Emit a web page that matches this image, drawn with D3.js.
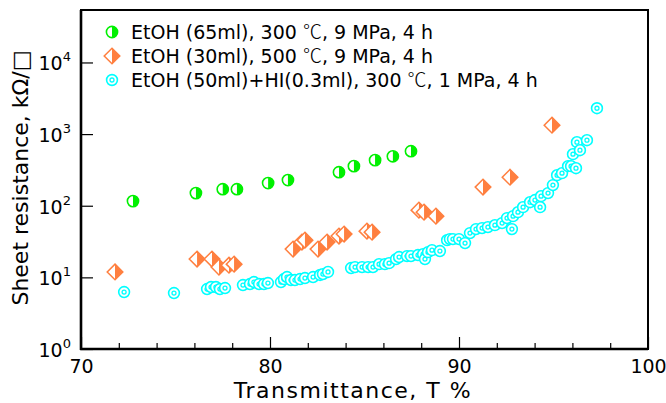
<!DOCTYPE html>
<html>
<head>
<meta charset="utf-8">
<script src="https://d3js.org/d3.v7.min.js"></script>
<style>
  body { margin: 0; background: #fff; }
  text { font-family: "DejaVu Sans", Verdana, sans-serif; fill: #000; }
</style>
</head>
<body>
<script>
// series: transmittance (%) and sheet resistance (kOhm/sq)
var green_T = [72.75, 76.08, 77.5, 78.25, 79.9, 80.95, 83.65, 84.44, 85.56, 86.5, 87.46];
var green_R = [116, 150, 170, 170, 207, 228, 294, 357, 433, 490, 577];

var orange_T = [71.80, 76.14, 76.93, 77.30, 77.83, 78.10, 81.22, 81.69, 81.85, 82.54, 83.02,
                83.65, 83.92, 85.13, 85.40, 87.88, 88.15, 88.78, 91.27, 92.70, 94.92];
var orange_R = [11.9, 18.0, 18.0, 13.9, 14.8, 15.3, 24.8, 31.1, 33.1, 24.8, 31.1,
                37.7, 40.2, 44.2, 42.8, 86.8, 81.4, 71.6, 182, 250, 1331];

var cyan_T = [72.28, 74.92, 76.67, 76.88, 77.14, 77.35, 77.62, 78.57, 78.94, 79.15, 79.42,
              79.68, 79.89, 80.58, 80.74, 80.90, 81.11, 81.32, 81.59, 81.85, 82.28, 82.65,
              82.80, 83.07, 84.29, 84.50, 84.87, 85.19, 85.45, 85.77, 86.08, 86.30, 86.67,
              86.83, 87.25, 87.46, 87.83, 88.10, 88.20, 88.36, 88.57, 88.99, 89.37, 89.52,
              89.68, 90.00, 90.32, 90.58, 90.90, 91.22, 91.53, 91.90, 92.28, 92.54, 92.80,
              92.86, 93.12, 93.39, 93.76, 94.02, 94.29, 94.34, 94.71, 94.97, 95.19, 95.45,
              95.77, 95.93, 96.19, 96.03, 96.24, 96.40, 96.77, 97.30];
var cyan_R = [6.24, 6.04, 6.87, 7.32, 7.32, 6.87, 7.09, 7.81, 8.07, 8.60, 8.07,
              8.07, 8.33, 8.60, 9.47, 10.1, 9.17, 9.17, 9.47, 9.78, 10.1, 10.8,
              11.1, 11.9, 13.5, 13.9, 13.9, 13.9, 13.9, 15.3, 15.3, 15.8, 18.0,
              19.2, 19.8, 19.8, 20.5, 21.1, 18.0, 22.5, 24.0, 23.3, 33.1, 34.2,
              34.2, 34.2, 30.1, 41.5, 47.2, 48.7, 50.3, 53.6, 57.2, 67.2, 47.2,
              71.6, 81.4, 95.5, 112, 120, 95.5, 136, 150, 194, 267, 285,
              357, 357, 334, 525, 771, 596, 822, 2296];

// legend text split around the degree sign (it needs a full-width glyph)
var legend_pre = ["EtOH (65ml), 300 ", "EtOH (30ml), 500 ", "EtOH (50ml)+HI(0.3ml), 300 "];
var legend_post = [", 9 MPa, 4 h", ", 9 MPa, 4 h", ", 1 MPa, 4 h"];
var x_ticks = [70, 80, 90, 100];
var x_minor = [72, 74, 76, 78, 82, 84, 86, 88, 92, 94, 96, 98];
var y_exps = [0, 1, 2, 3, 4];

var W = 666, H = 403;
var m_left = 81, m_right = 648, m_top = 10, m_bottom = 349;

var green = "#00f000", orange = "#ff7f3f", cyan = "#00ffff";

var svg = d3.select("body").append("svg")
    .attr("width", W)
    .attr("height", H);

var x = d3.scaleLinear().domain([70, 100]).range([m_left, m_right]);
var y = d3.scaleLog().domain([1, 5.4e4]).range([m_bottom, m_top]);

// minor x ticks
var gm = svg.append("g")
    .attr("transform", "translate(0," + m_bottom + ")")
    .call(d3.axisBottom(x).tickValues(x_minor).tickSize(-6).tickFormat(""));
gm.select(".domain").remove();
gm.selectAll("line").attr("stroke-width", 1.2);

// major x ticks + labels
var gx = svg.append("g")
    .attr("transform", "translate(0," + m_bottom + ")")
    .call(d3.axisBottom(x).tickValues(x_ticks).tickSize(-12).tickPadding(11).tickFormat(d3.format("d")));
gx.select(".domain").remove();
gx.selectAll("line").attr("stroke-width", 1.2);
gx.selectAll("text").style("font-size", "19px").style("font-family", "DejaVu Sans");

// y ticks (inward)
var gy = svg.append("g")
    .attr("transform", "translate(" + m_left + ",0)")
    .call(d3.axisLeft(y).tickValues(y_exps.map(function(e) { return Math.pow(10, e); })).tickSize(-12).tickFormat(""));
gy.select(".domain").remove();
gy.selectAll("line").attr("stroke-width", 1.2);

// y tick labels 10^n
y_exps.forEach(function(e) {
  var t = svg.append("text")
      .attr("x", 71)
      .attr("y", y(Math.pow(10, e)) + 8)
      .attr("text-anchor", "end")
      .style("font-size", "19px");
  t.append("tspan").text("10");
  t.append("tspan").attr("dy", -9).style("font-size", "13px").text(e);
});

// frame
svg.append("rect")
    .attr("x", m_left).attr("y", m_top)
    .attr("width", m_right - m_left).attr("height", m_bottom - m_top)
    .attr("fill", "none").attr("stroke", "#000").attr("stroke-width", 2);
svg.append("line").attr("x1", m_left).attr("x2", m_left).attr("y1", m_top).attr("y2", m_bottom + 1)
    .attr("stroke", "#000").attr("stroke-width", 2.6);
svg.append("line").attr("x1", m_left - 1).attr("x2", m_right).attr("y1", m_bottom).attr("y2", m_bottom)
    .attr("stroke", "#000").attr("stroke-width", 2.6);

// axis titles
svg.append("text")
    .attr("x", 353)
    .attr("y", 398)
    .attr("text-anchor", "middle")
    .style("font-size", "22px")
    .style("letter-spacing", "1.5px")
    .text("Transmittance, T %");
svg.append("text")
    .attr("transform", "translate(28,178) rotate(-90)")
    .attr("text-anchor", "middle")
    .style("font-size", "22px")
    .text("Sheet resistance, k\u03A9/\u25A1");

// marker drawing
function draw_green(g) {
  g.append("circle").attr("r", 5.6).attr("fill", "#fff").attr("stroke", green).attr("stroke-width", 1.6);
  g.append("path").attr("d", "M0,-5.6 A5.6,5.6 0 0 1 0,5.6 Z").attr("fill", green);
}
function draw_orange(g) {
  var s = 7.8;
  g.append("path").attr("d", "M0," + (-s) + " L" + s + ",0 L0," + s + " L" + (-s) + ",0 Z")
      .attr("fill", "#fff").attr("stroke", orange).attr("stroke-width", 1.5);
  g.append("path").attr("d", "M0," + (-s) + " L" + s + ",0 L0," + s + " Z").attr("fill", orange);
}
function draw_cyan(g) {
  g.append("circle").attr("r", 5.4).attr("fill", "#fff").attr("stroke", cyan).attr("stroke-width", 1.6);
  g.append("circle").attr("r", 2).attr("fill", "none").attr("stroke", cyan).attr("stroke-width", 1.3);
}

function plot(ts, rs, fn) {
  ts.forEach(function(t, i) {
    var g = svg.append("g").attr("transform", "translate(" + x(t) + "," + y(rs[i]) + ")");
    fn(g);
  });
}

plot(orange_T, orange_R, draw_orange);
plot(green_T, green_R, draw_green);
plot(cyan_T, cyan_R, draw_cyan);

// legend
var legend_fns = [draw_green, draw_orange, draw_cyan];
var legend_y = [32, 56, 80];
legend_pre.forEach(function(lbl, i) {
  var g = svg.append("g").attr("transform", "translate(112," + legend_y[i] + ")");
  legend_fns[i](g);
  var t = svg.append("text")
      .attr("x", 131)
      .attr("y", legend_y[i] + 7)
      .style("font-size", "19px");
  t.append("tspan").text(lbl);
  t.append("tspan").style("font-family", "Noto Sans CJK JP").style("font-weight", 300).text("\u2103");
  t.append("tspan").text(legend_post[i]);
});
</script>
</body>
</html>
